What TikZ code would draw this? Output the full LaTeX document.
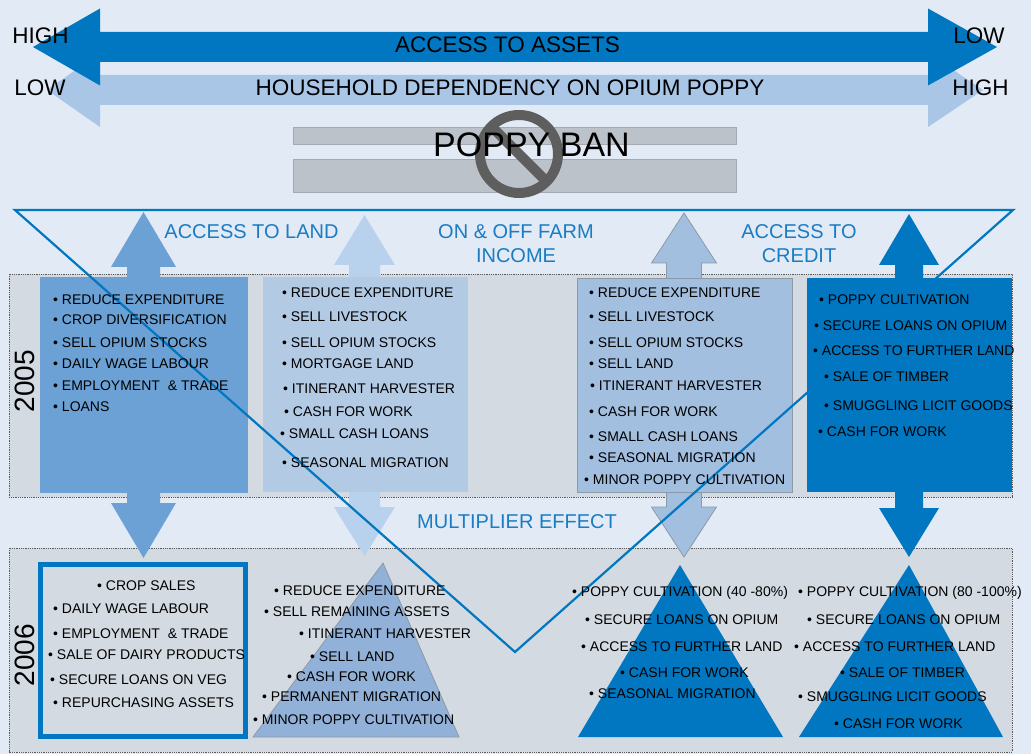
\documentclass[tikz,border=0pt]{standalone}
\usepackage{fontspec}
\setmainfont{Liberation Sans}
\definecolor{bgblue}{HTML}{E2EAF5}
\definecolor{panelgrey}{HTML}{D4DAE2}
\definecolor{dotgrey}{HTML}{5A5A5A}
\definecolor{darkblue}{HTML}{0077C0}
\definecolor{midblue}{HTML}{6BA1D4}
\definecolor{paleblue}{HTML}{B3CAE5}
\definecolor{arrowpale}{HTML}{B8D1EC}
\definecolor{softblue}{HTML}{A3BFE0}
\definecolor{triblue}{HTML}{91B1D8}
\definecolor{edgegrey}{HTML}{8C99A6}
\definecolor{topblue}{HTML}{A9C6E7}
\definecolor{labelblue}{HTML}{1A7CC4}
\definecolor{bangrey}{HTML}{BCC2C9}
\definecolor{banedge}{HTML}{A5AAB0}
\definecolor{signgrey}{HTML}{5E5E5E}
\begin{document}
\begin{tikzpicture}[x=1pt,y=-1pt,
  item/.style={anchor=base west,inner sep=0pt,font=\fontsize{14}{16}\selectfont},
  lbl/.style={inner sep=0pt,align=center,text=labelblue,font=\fontsize{20}{24}\selectfont},
  head/.style={inner sep=0pt,font=\fontsize{22.5}{26}\selectfont},
  year/.style={inner sep=0pt,rotate=90,font=\fontsize{28}{30}\selectfont},
  panel/.style={fill=panelgrey,draw=dotgrey,densely dotted,line width=0.8pt}]
\useasboundingbox (0,0) rectangle (1031,754);
\fill[bgblue] (0,0) rectangle (1031,754);

\fill[topblue] (47,90) -- (100,53) -- (100,75) -- (928,75) -- (928,53) -- (983,90) -- (928,127) -- (928,105) -- (100,105) -- (100,127) -- cycle;
\fill[darkblue] (33,47) -- (100,8.5) -- (100,32) -- (928,32) -- (928,8.5) -- (997,47) -- (928,85.5) -- (928,62) -- (100,62) -- (100,85.5) -- cycle;
\node[head] (accleft) at (40.5,36) {HIGH};
\node[head] (depleft) at (40,88) {LOW};
\node[head] (accright) at (979,36) {LOW};
\node[head] (depright) at (980.5,88) {HIGH};
\node[head] (assets) at (507.5,45) {ACCESS TO ASSETS};
\node[head] (depend) at (510,88) {HOUSEHOLD DEPENDENCY ON OPIUM POPPY};

\filldraw[fill=bangrey,draw=banedge,line width=1pt] (293,128) rectangle (736,145);
\filldraw[fill=bangrey,draw=banedge,line width=1pt] (293,160) rectangle (736,193);
\draw[signgrey,line width=10pt] (519,154) circle (39);
\draw[signgrey,line width=10pt] (491.4,126.4) -- (546.6,181.6);
\node[inner sep=0pt,font=\fontsize{34}{36}\selectfont] (ban) at (531.5,145) {POPPY BAN};

\draw[panel] (9,274) rectangle (1012,497);
\draw[panel] (9,548) rectangle (1012,752);
\node[year] (y2005) at (25,381) {2005};
\node[year] (y2006) at (25,655) {2006};

\fill[midblue] (143.5,212) -- (176,267) -- (160,267) -- (160,503) -- (176,503) -- (143.5,558) -- (111,503) -- (127,503) -- (127,267) -- (111,267) -- cycle;
\fill[arrowpale] (364.5,215) -- (395,265) -- (380,265) -- (380,507) -- (395,507) -- (364.5,556) -- (334,507) -- (349,507) -- (349,265) -- (334,265) -- cycle;
\filldraw[fill=softblue,draw=edgegrey,line width=0.8pt] (684,213) -- (716.5,263) -- (701.5,263) -- (701.5,507) -- (716.5,507) -- (684,557) -- (651.5,507) -- (666.5,507) -- (666.5,263) -- (651.5,263) -- cycle;
\fill[darkblue] (909,214) -- (939,265) -- (923,265) -- (923,508) -- (939,508) -- (909,557) -- (879,508) -- (895,508) -- (895,265) -- (879,265) -- cycle;

\fill[midblue] (40,277) rectangle (248,493);
\fill[paleblue] (263,277) rectangle (468,492);
\filldraw[fill=softblue,draw=edgegrey,line width=0.8pt] (577,278) rectangle (792,492);
\fill[darkblue] (807,278) rectangle (1012,492);

\draw[darkblue,line width=5pt] (40.5,564.5) rectangle (245.5,736.5);
\filldraw[fill=triblue,draw=edgegrey,line width=0.8pt] (383,563) -- (459,737) -- (253,737) -- cycle;
\fill[darkblue] (680,565) -- (783,737) -- (578,737) -- cycle;
\fill[darkblue] (909,565) -- (1003,737) -- (799,737) -- cycle;

\draw[darkblue,line width=2.2pt,line join=miter] (15,210) -- (1013,210) -- (515,652) -- cycle;

\node[lbl] (land) at (251.5,231.5) {ACCESS TO LAND};
\node[lbl] (income) at (516,243.5) {ON \& OFF FARM\\INCOME};
\node[lbl] (credit) at (799,243.5) {ACCESS TO\\CREDIT};
\node[lbl] (multi) at (517,522) {MULTIPLIER EFFECT};

\node[item] (a1) at (53,304) {\textbullet\ REDUCE EXPENDITURE};
\node[item] (a2) at (53,324) {\textbullet\ CROP DIVERSIFICATION};
\node[item] (a3) at (53,347) {\textbullet\ SELL OPIUM STOCKS};
\node[item] (a4) at (53,368) {\textbullet\ DAILY WAGE LABOUR};
\node[item] (a5) at (53,390) {\textbullet\ EMPLOYMENT\ \ \& TRADE};
\node[item] (a6) at (53,411) {\textbullet\ LOANS};

\node[item] (b1) at (282,298) {\textbullet\ REDUCE EXPENDITURE};
\node[item] (b2) at (282,321) {\textbullet\ SELL LIVESTOCK};
\node[item] (b3) at (282,347) {\textbullet\ SELL OPIUM STOCKS};
\node[item] (b4) at (282,368) {\textbullet\ MORTGAGE LAND};
\node[item] (b5) at (283,393) {\textbullet\ ITINERANT HARVESTER};
\node[item] (b6) at (284,416) {\textbullet\ CASH FOR WORK};
\node[item] (b7) at (280,438) {\textbullet\ SMALL CASH LOANS};
\node[item] (b8) at (282,467) {\textbullet\ SEASONAL MIGRATION};

\node[item] (c1) at (589,298) {\textbullet\ REDUCE EXPENDITURE};
\node[item] (c2) at (589,321) {\textbullet\ SELL LIVESTOCK};
\node[item] (c3) at (589,347) {\textbullet\ SELL OPIUM STOCKS};
\node[item] (c4) at (589,368) {\textbullet\ SELL LAND};
\node[item] (c5) at (590,390) {\textbullet\ ITINERANT HARVESTER};
\node[item] (c6) at (589,416) {\textbullet\ CASH FOR WORK};
\node[item] (c7) at (589,441) {\textbullet\ SMALL CASH LOANS};
\node[item] (c8) at (589,462) {\textbullet\ SEASONAL MIGRATION};
\node[item] (c9) at (584,484) {\textbullet\ MINOR POPPY CULTIVATION};

\node[item] (d1) at (819,304) {\textbullet\ POPPY CULTIVATION};
\node[item] (d2) at (814,330) {\textbullet\ SECURE LOANS ON OPIUM};
\node[item] (d3) at (813,355) {\textbullet\ ACCESS TO FURTHER LAND};
\node[item] (d4) at (824,381) {\textbullet\ SALE OF TIMBER};
\node[item] (d5) at (824,410) {\textbullet\ SMUGGLING LICIT GOODS};
\node[item] (d6) at (818,436) {\textbullet\ CASH FOR WORK};

\node[item] (e1) at (97,590) {\textbullet\ CROP SALES};
\node[item] (e2) at (53,613) {\textbullet\ DAILY WAGE LABOUR};
\node[item] (e3) at (53,638) {\textbullet\ EMPLOYMENT\ \ \& TRADE};
\node[item] (e4) at (48,659) {\textbullet\ SALE OF DAIRY PRODUCTS};
\node[item] (e5) at (50,684) {\textbullet\ SECURE LOANS ON VEG};
\node[item] (e6) at (53,707) {\textbullet\ REPURCHASING ASSETS};

\node[item] (f1) at (274,595) {\textbullet\ REDUCE EXPENDITURE};
\node[item] (f2) at (264,616) {\textbullet\ SELL REMAINING ASSETS};
\node[item] (f3) at (299,638) {\textbullet\ ITINERANT HARVESTER};
\node[item] (f4) at (310,661) {\textbullet\ SELL LAND};
\node[item] (f5) at (287,681) {\textbullet\ CASH FOR WORK};
\node[item] (f6) at (262,701) {\textbullet\ PERMANENT MIGRATION};
\node[item] (f7) at (253,724) {\textbullet\ MINOR POPPY CULTIVATION};

\node[item] (g1) at (572,596) {\textbullet\ POPPY CULTIVATION (40 -80\%)};
\node[item] (g2) at (585,624) {\textbullet\ SECURE LOANS ON OPIUM};
\node[item] (g3) at (581,651) {\textbullet\ ACCESS TO FURTHER LAND};
\node[item] (g4) at (620,677) {\textbullet\ CASH FOR WORK};
\node[item] (g5) at (589,698) {\textbullet\ SEASONAL MIGRATION};

\node[item] (h1) at (798,596) {\textbullet\ POPPY CULTIVATION (80 -100\%)};
\node[item] (h2) at (807,624) {\textbullet\ SECURE LOANS ON OPIUM};
\node[item] (h3) at (794,651) {\textbullet\ ACCESS TO FURTHER LAND};
\node[item] (h4) at (840,677) {\textbullet\ SALE OF TIMBER};
\node[item] (h5) at (798,701) {\textbullet\ SMUGGLING LICIT GOODS};
\node[item] (h6) at (834,728) {\textbullet\ CASH FOR WORK};
\end{tikzpicture}
\end{document}
